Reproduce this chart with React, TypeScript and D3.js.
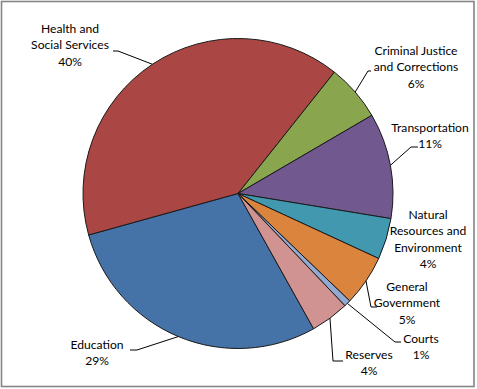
import React from "react";
import * as d3 from "d3";

const categories = [
  "Education",
  "Health and Social Services",
  "Criminal Justice and Corrections",
  "Transportation",
  "Natural Resources and Environment",
  "General Government",
  "Courts",
  "Reserves",
];
const values = [28.8, 40.0, 5.9, 11.0, 4.3, 5.3, 0.7, 4.0];
const labelLines = [
  ["Education"],
  ["Health and", "Social Services"],
  ["Criminal Justice", "and Corrections"],
  ["Transportation"],
  ["Natural", "Resources and", "Environment"],
  ["General", "Government"],
  ["Courts"],
  ["Reserves"],
];
const colors = ["#4572A7", "#AA4643", "#89A54E", "#71588F", "#4198AF", "#DB843D", "#93A9CF", "#D19392"];

// label layout (x center, first line y, leader elbow, leader end)
const labelLayout = [
  { x: 97, y: 346, elbow: [137, 350], end: [130, 350] },
  { x: 70, y: 30, elbow: [118, 51], end: [113, 51] },
  { x: 416, y: 52, elbow: [368, 71], end: [371, 71] },
  { x: 430, y: 129, elbow: [411, 147], end: [418, 147] },
  { x: 428, y: 216, elbow: null, end: null },
  { x: 407, y: 288, elbow: [371, 307], end: [377, 307] },
  { x: 421, y: 340, elbow: [395, 342], end: [401, 342] },
  { x: 369, y: 356, elbow: [333, 361], end: [343, 361] },
];

const W = 477;
const H = 389;
const cx = 238;
const cy = 193.5;
const R = 155;
const LINE = 16.3;

export default function App() {
  const total = d3.sum(values);
  const start = (150.8 * Math.PI) / 180;
  const pie = d3
    .pie<number>()
    .sort(null)
    .value((d) => d)
    .startAngle(start)
    .endAngle(start + 2 * Math.PI);
  const arcs = pie(values);
  const arc = d3.arc<d3.PieArcDatum<number>>().innerRadius(0).outerRadius(R);

  return (
    <svg
      width={W}
      height={H}
      style={{ position: "absolute", left: 0, top: 0, background: "#fff" }}
      fontFamily="Lato, 'Open Sans', sans-serif"
      fontSize={12.1}
    >
      <rect x={1.5} y={1.5} width={472.5} height={385} fill="#fff" stroke="#858585" strokeWidth={1.6} />
      <g transform={`translate(${cx},${cy})`}>
        {arcs.map((a, i) => (
          <path key={categories[i]} d={arc(a) || ""} fill={colors[i]} stroke="#1a1a1a" strokeWidth={1} strokeLinejoin="round" />
        ))}
      </g>
      {arcs.map((a, i) => {
        const L = labelLayout[i];
        const mid = (a.startAngle + a.endAngle) / 2;
        const px = cx + R * Math.sin(mid);
        const py = cy - R * Math.cos(mid);
        const lines = labelLines[i];
        const pct = Math.round((values[i] / total) * 100) + "%";
        return (
          <g key={"l" + i}>
            {L.elbow && L.end && (
              <polyline
                points={`${px},${py} ${L.elbow[0]},${L.elbow[1]} ${L.end[0]},${L.end[1]}`}
                fill="none"
                stroke="#000"
                strokeWidth={1}
              />
            )}
            <text textAnchor="middle" fill="#000">
              {lines.map((t, j) => (
                <tspan key={j} x={L.x} y={L.y + j * LINE} dominantBaseline="middle">
                  {t}
                </tspan>
              ))}
              <tspan x={L.x} y={L.y + lines.length * LINE} dominantBaseline="middle">
                {pct}
              </tspan>
            </text>
          </g>
        );
      })}
    </svg>
  );
}
